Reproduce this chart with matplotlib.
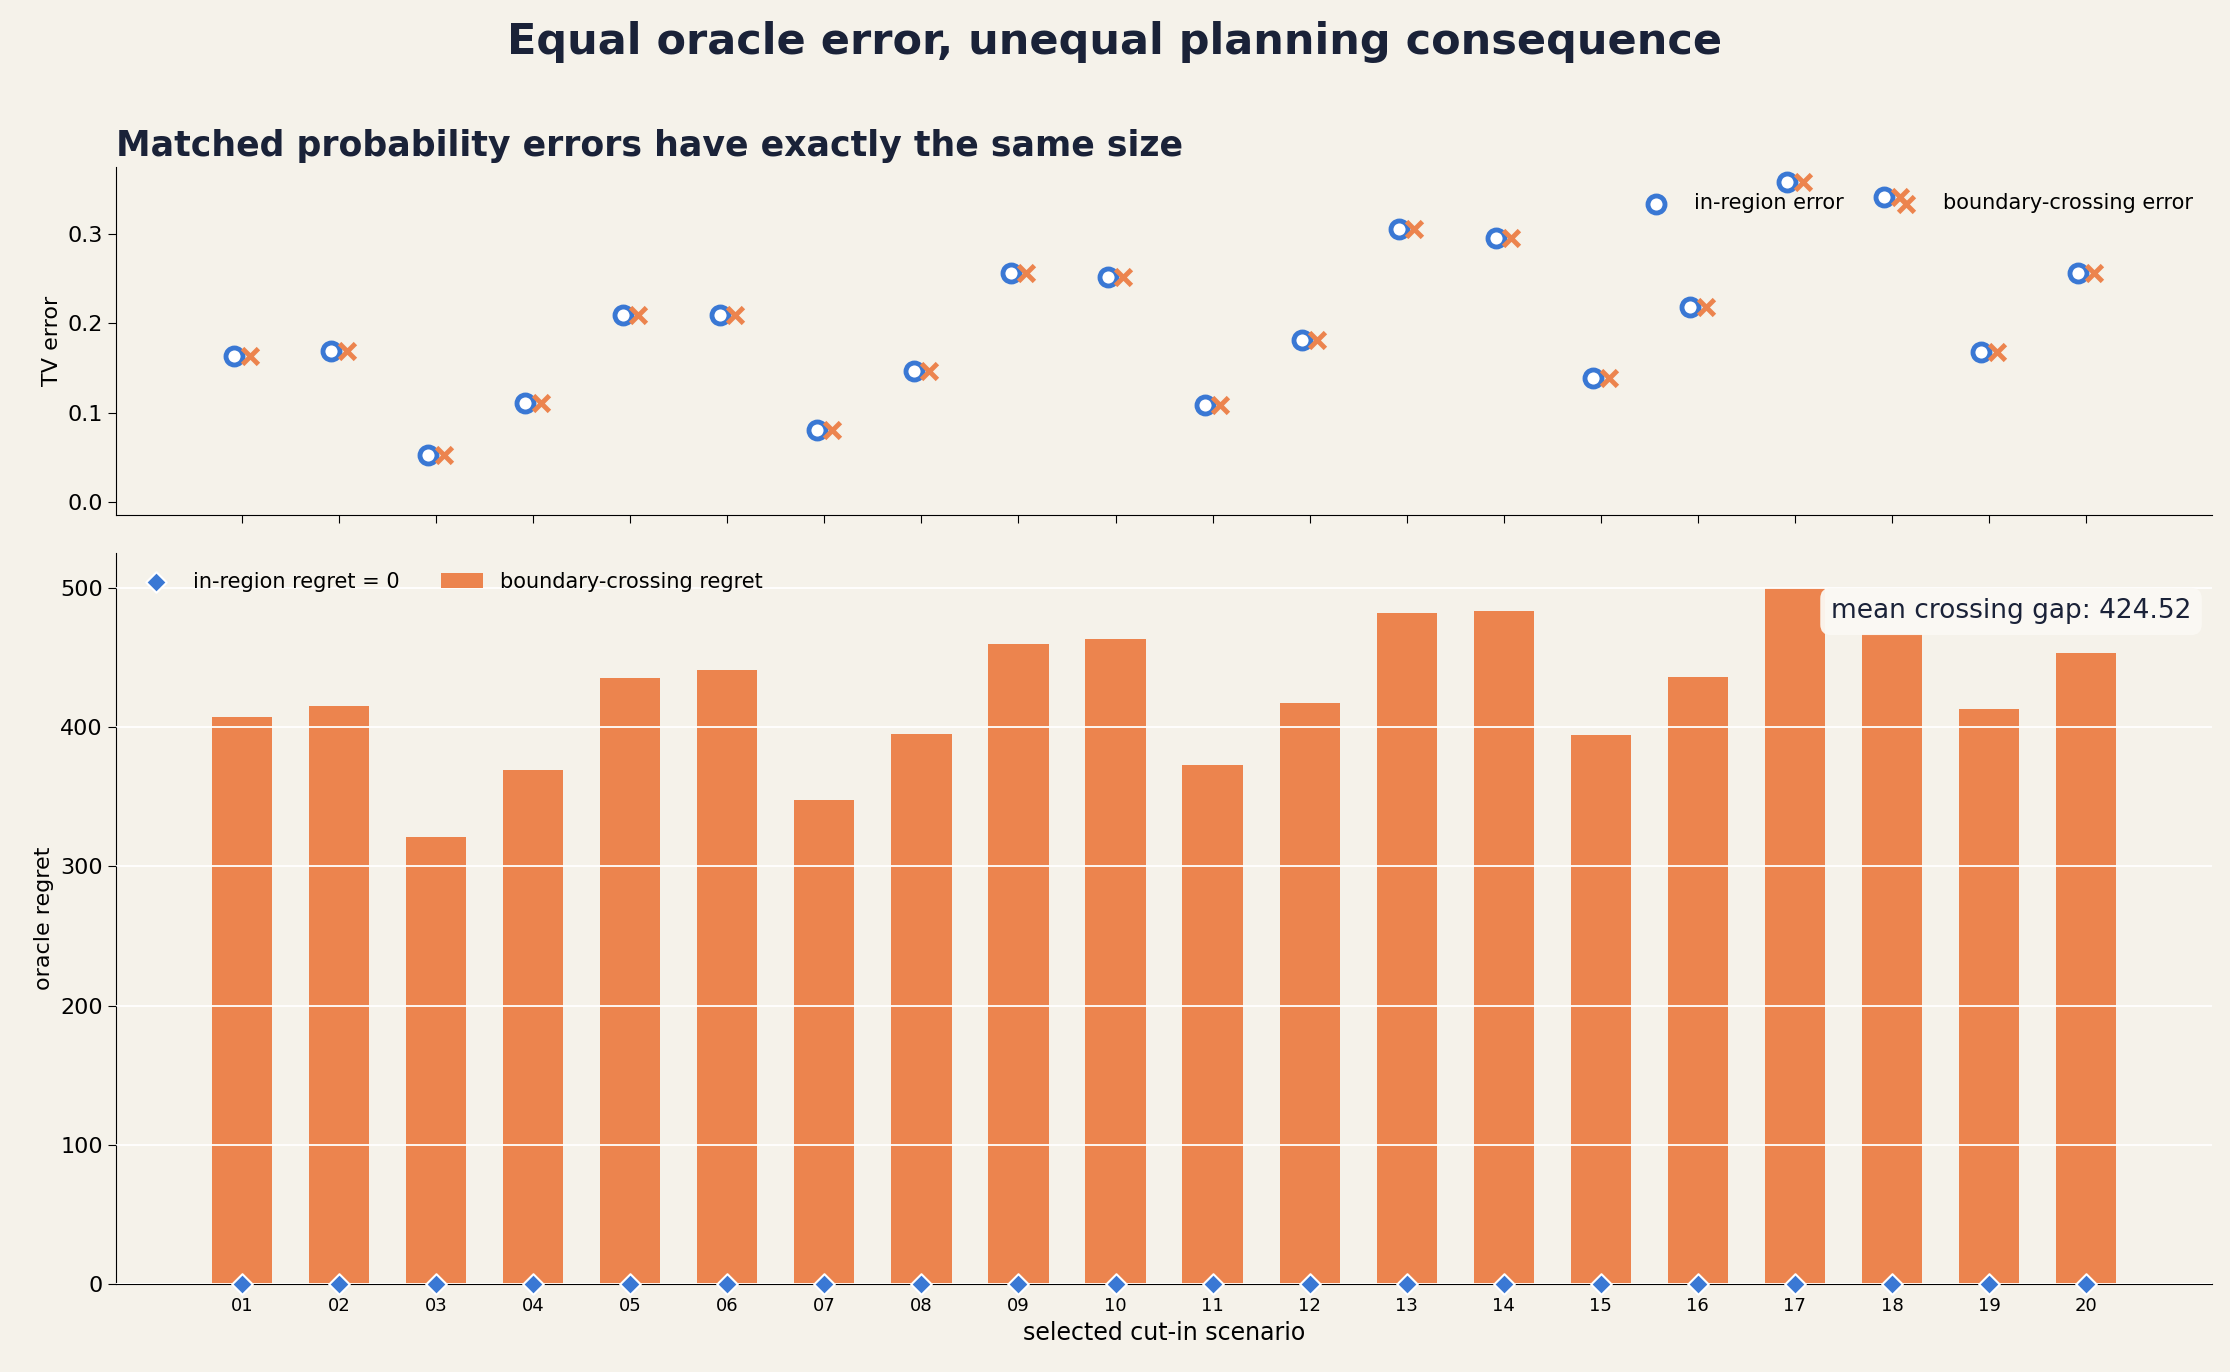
import numpy as np
import matplotlib.pyplot as plt

scenarios = [f"{i:02d}" for i in range(1, 21)]
tv_error = [0.163, 0.169, 0.052, 0.111, 0.210, 0.210, 0.081, 0.147, 0.257, 0.252,
            0.109, 0.182, 0.306, 0.296, 0.139, 0.219, 0.359, 0.342, 0.168, 0.257]
crossing_regret = [407, 415, 321, 369, 435, 441, 348, 395, 460, 463,
                   373, 417, 482, 483, 394, 436, 500, 467, 413, 453]
inregion_regret = [0] * 20

bg = "#f5f2ea"
blue = "#3a78d4"
orange = "#ec844e"
dark = "#1a2238"

x = np.arange(len(scenarios))

fig, (ax1, ax2) = plt.subplots(2, 1, figsize=(22.3, 13.72), dpi=100, sharex=True,
                               gridspec_kw={"height_ratios": [245, 515], "hspace": 0.07})
fig.patch.set_facecolor(bg)
fig.subplots_adjust(left=0.052, right=0.992, top=0.878, bottom=0.064)

# top panel: TV error
ax1.set_facecolor(bg)
ax1.scatter(x - 0.08, tv_error, s=150, facecolors="white", edgecolors=blue,
            linewidths=3.5, label="in-region error", zorder=3)
ax1.scatter(x + 0.08, tv_error, s=130, marker="x", color=orange,
            linewidths=3.5, label="boundary-crossing error", zorder=4)
ax1.set_ylim(-0.015, 0.375)
ax1.set_yticks([0.0, 0.1, 0.2, 0.3])
ax1.set_ylabel("TV error", fontsize=16)
ax1.tick_params(labelsize=16, length=6)
ax1.set_title("Matched probability errors have exactly the same size", loc="left",
              fontsize=25, fontweight="bold", color=dark, pad=8)
ax1.legend(loc="upper right", ncol=2, frameon=False, fontsize=15,
           bbox_to_anchor=(1.0, 0.98), columnspacing=2)
for s in ["top", "right"]:
    ax1.spines[s].set_visible(False)
ax1.tick_params(axis="x", labelbottom=False)

# bottom panel: regret
ax2.set_facecolor(bg)
ax2.bar(x, crossing_regret, width=0.62, color=orange, label="boundary-crossing regret", zorder=2)
ax2.scatter(x, inregion_regret, marker="D", s=110, color=blue, edgecolors="white",
            linewidths=1.5, label="in-region regret = 0", zorder=5, clip_on=False)
ax2.set_axisbelow(False)
ax2.yaxis.grid(True, color="white", linewidth=1.3, zorder=3)
ax2.set_ylim(0, 525)
ax2.set_xlim(-1.3, 20.3)
ax2.set_xticks(x)
ax2.set_xticklabels(scenarios, fontsize=13)
ax2.tick_params(axis="y", labelsize=16, length=6)
ax2.tick_params(axis="x", length=6)
ax2.set_ylabel("oracle regret", fontsize=16)
ax2.set_xlabel("selected cut-in scenario", fontsize=17)
ax2.legend(loc="upper left", ncol=2, frameon=False, fontsize=15, columnspacing=2)
ax2.text(0.99, 0.92, "mean crossing gap: 424.52", transform=ax2.transAxes,
         ha="right", va="center", fontsize=19, color=dark, zorder=6,
         bbox=dict(boxstyle="round,pad=0.4", facecolor="#fbf9f4", edgecolor="none", alpha=0.95))
for s in ["top", "right"]:
    ax2.spines[s].set_visible(False)

fig.suptitle("Equal oracle error, unequal planning consequence", fontsize=31,
             fontweight="bold", color=dark, y=0.985)

plt.savefig("out.png", facecolor=bg)
